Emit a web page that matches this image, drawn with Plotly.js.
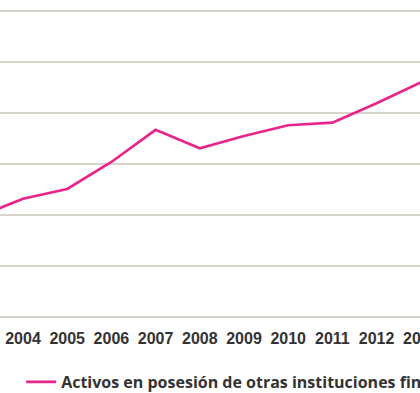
<!DOCTYPE html>
<html>
<head>
<meta charset="utf-8">
<script src="https://cdn.plot.ly/plotly-3.0.1.min.js"></script>
<style>
html,body{margin:0;padding:0;overflow:hidden;width:420px;height:393px;background:#fff;}
#chart{width:470px;height:393px;}
</style>
</head>
<body>
<div id="chart"></div>
<script>
const years = [2003, 2004, 2005, 2006, 2007, 2008, 2009, 2010, 2011, 2012, 2013];
const activos = [19.7, 23.2, 25.1, 30.4, 36.7, 33.1, 35.5, 37.6, 38.1, 41.9, 46.0];
const seriesName = 'Activos en posesión de otras instituciones financieras';
const tickYears = [2004, 2005, 2006, 2007, 2008, 2009, 2010, 2011, 2012, 2013];

const trace = {
  x: years, y: activos, type: 'scatter', mode: 'lines', name: seriesName,
  line: {color: '#e8258b', width: 2.7}
};
const layout = {
  width: 470, height: 393,
  margin: {l: 0, r: 0, t: 10, b: 76},
  paper_bgcolor: '#fff', plot_bgcolor: '#fff',
  showlegend: true,
  xaxis: {
    range: [2003.48, 2003.48 + 470 / 44.2],
    tickmode: 'array', tickvals: tickYears, ticktext: tickYears.map(String),
    showgrid: false, zeroline: false, showline: false, ticks: '',
    tickfont: {family: 'Liberation Sans Narrow, Arial Narrow, sans-serif', size: 16, color: '#333333', weight: 'bold'},
    ticklabelstandoff: 10
  },
  yaxis: {
    range: [0, 60.2], dtick: 10, tick0: 0,
    showticklabels: false, ticks: '',
    gridcolor: '#d8d3cb', gridwidth: 1.3,
    zeroline: true, zerolinecolor: '#d8d3cb', zerolinewidth: 1.5
  },
  legend: {
    orientation: 'h', xref: 'container', yref: 'container',
    x: 0.045, xanchor: 'left', y: 0.028, yanchor: 'middle',
    font: {family: 'Open Sans, sans-serif', size: 16, color: '#333333', weight: 'bold'},
    bgcolor: 'rgba(0,0,0,0)'
  }
};
Plotly.newPlot('chart', [trace], layout, {displayModeBar: false, staticPlot: true});
</script>
</body>
</html>
